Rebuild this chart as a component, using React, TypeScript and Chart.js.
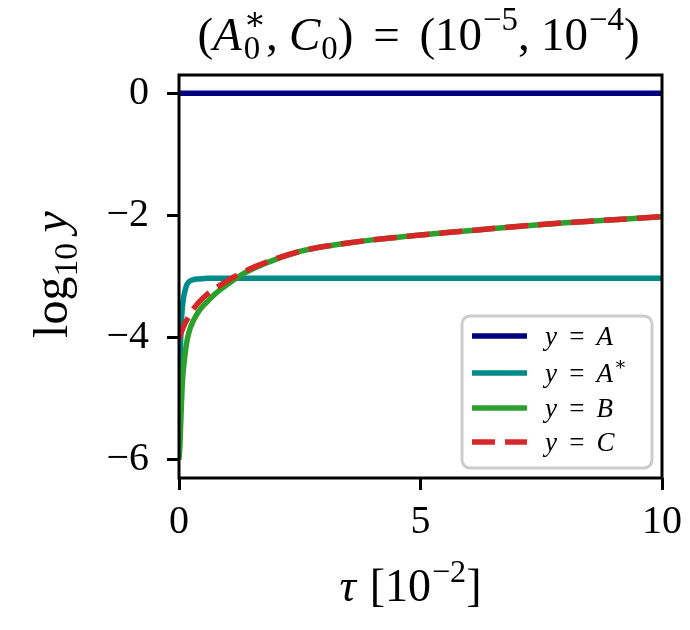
import React, { useEffect, useRef } from 'react';
import { Chart, registerables } from 'chart.js';

Chart.register(...registerables);

// ---------- data ----------
const tau = [0, 0.02, 0.04, 0.06, 0.08, 0.1, 0.15, 0.2, 0.3, 0.4, 0.5, 0.6, 0.8, 1.0, 1.3, 1.6, 2.0, 2.5, 3.0, 3.5, 4.0, 4.5, 5.0, 6.0, 7.0, 8.0, 9.0, 10.0];
const logA = [0, 0, 0, 0, 0, 0, 0, 0, 0, 0, 0, 0, 0, 0, 0, 0, 0, 0, 0, 0, 0, 0, 0, 0, 0, 0, 0, 0];
const logAstar = [-5.0, -4.4, -3.9, -3.6, -3.43, -3.32, -3.16, -3.09, -3.05, -3.04, -3.035, -3.03, -3.03, -3.03, -3.03, -3.03, -3.03, -3.03, -3.03, -3.03, -3.03, -3.03, -3.03, -3.03, -3.03, -3.03, -3.03, -3.03];
const logB = [-6.0, -5.75, -5.3, -4.9, -4.62, -4.45, -4.13, -3.93, -3.72, -3.58, -3.48, -3.4, -3.25, -3.13, -2.97, -2.85, -2.72, -2.59, -2.51, -2.45, -2.4, -2.36, -2.32, -2.25, -2.18, -2.12, -2.07, -2.02];
const logC = [-4.02, -3.98, -3.93, -3.89, -3.85, -3.81, -3.73, -3.66, -3.53, -3.43, -3.35, -3.28, -3.17, -3.07, -2.94, -2.83, -2.71, -2.59, -2.51, -2.45, -2.4, -2.36, -2.32, -2.25, -2.18, -2.12, -2.07, -2.02];

const xTicks = [0, 5, 10];
const yTicks = [-6, -4, -2, 0];
const xMin = 0;
const xMax = 10;
const yMin = -6.3;
const yMax = 0.3;
const seriesNames = ['A', 'A', 'B', 'C'];
const seriesStars = [false, true, false, false];
const seriesColors = ['#000080', '#008b8b', '#2ca02c', '#d62728'];

const FONT = "'Liberation Serif', 'DejaVu Serif', serif";

type Seg = { t: string; it?: boolean; pos?: 'sup' | 'sub'; stack?: boolean; gapL?: number; gapR?: number };

function richWidth(ctx: CanvasRenderingContext2D, segs: Seg[], size: number) {
  let x = 0;
  let pendingStack = 0;
  for (const s of segs) {
    const fs = s.pos ? size * 0.7 : size;
    ctx.font = `${s.it ? 'italic ' : ''}${fs}px ${FONT}`;
    const w = ctx.measureText(s.t).width;
    x += (s.gapL || 0) * size;
    if (s.stack) {
      pendingStack = w;
      continue;
    }
    x += Math.max(w, pendingStack);
    pendingStack = 0;
    x += (s.gapR || 0) * size;
  }
  return x;
}

function drawRich(ctx: CanvasRenderingContext2D, segs: Seg[], x0: number, y: number, size: number, align: 'left' | 'center') {
  const total = richWidth(ctx, segs, size);
  let x = align === 'center' ? x0 - total / 2 : x0;
  let pendingStack = 0;
  ctx.textBaseline = 'alphabetic';
  ctx.textAlign = 'left';
  for (const s of segs) {
    const fs = s.pos ? size * 0.7 : size;
    ctx.font = `${s.it ? 'italic ' : ''}${fs}px ${FONT}`;
    const w = ctx.measureText(s.t).width;
    x += (s.gapL || 0) * size;
    const dy = s.pos === 'sup' ? -0.42 * size : s.pos === 'sub' ? 0.2 * size : 0;
    ctx.fillText(s.t, x, y + dy);
    if (s.stack) {
      pendingStack = w;
      continue;
    }
    x += Math.max(w, pendingStack);
    pendingStack = 0;
    x += (s.gapR || 0) * size;
  }
}

const titleSegs: Seg[] = [
  { t: '(' },
  { t: 'A', it: true, gapR: 0.04 },
  { t: '∗', pos: 'sup', stack: true },
  { t: '0', pos: 'sub' },
  { t: ',', gapR: 0.24 },
  { t: 'C', it: true, gapR: 0.02 },
  { t: '0', pos: 'sub' },
  { t: ')' },
  { t: '=', gapL: 0.42, gapR: 0.42 },
  { t: '(10' },
  { t: '−5', pos: 'sup', gapL: 0.02 },
  { t: ',', gapR: 0.24 },
  { t: '10' },
  { t: '−4', pos: 'sup', gapL: 0.02 },
  { t: ')' },
];

const xLabelSegs: Seg[] = [
  { t: 'τ', it: true, gapR: 0.3 },
  { t: '[10' },
  { t: '−2', pos: 'sup', gapL: 0.02 },
  { t: ']' },
];

const yLabelSegs: Seg[] = [
  { t: 'log' },
  { t: '10', pos: 'sub', gapR: 0.22 },
  { t: 'y', it: true },
];

const decorPlugin = {
  id: 'decor',
  afterDatasetsDraw(chart: any) {
    const { ctx, chartArea } = chart;
    const { left, top, right, bottom } = chartArea;
    ctx.save();
    ctx.strokeStyle = '#000';
    ctx.lineWidth = 3;
    ctx.strokeRect(left, top, right - left, bottom - top);
    ctx.restore();
  },
  afterDraw(chart: any) {
    const { ctx, chartArea } = chart;
    const { left, top, right, bottom } = chartArea;
    ctx.save();
    ctx.fillStyle = '#000';
    // title
    drawRich(ctx, titleSegs, (left + right) / 2 - 2, 50, 47, 'center');
    // x label
    drawRich(ctx, xLabelSegs, (left + right) / 2 - 10, 601, 46, 'center');
    // y label
    ctx.save();
    ctx.translate(67, (top + bottom) / 2 - 2);
    ctx.rotate(-Math.PI / 2);
    drawRich(ctx, yLabelSegs, 0, 0, 48, 'center');
    ctx.restore();

    // legend
    const bx = 462, by = 316, bw = 190, bh = 152;
    ctx.beginPath();
    ctx.roundRect(bx, by, bw, bh, 8);
    ctx.fillStyle = 'rgba(255,255,255,0.9)';
    ctx.fill();
    ctx.strokeStyle = '#cccccc';
    ctx.lineWidth = 3;
    ctx.stroke();
    const rows = [336, 373, 408, 442];
    seriesNames.forEach((name, i) => {
      const ry = rows[i];
      ctx.beginPath();
      ctx.strokeStyle = seriesColors[i];
      ctx.lineWidth = 5.5;
      ctx.lineCap = 'butt';
      ctx.setLineDash(i === 3 ? [23, 10] : []);
      ctx.moveTo(472, ry);
      ctx.lineTo(527, ry);
      ctx.stroke();
      ctx.setLineDash([]);
      ctx.fillStyle = '#000';
      const segs: Seg[] = [
        { t: 'y', it: true },
        { t: '=', gapL: 0.45, gapR: 0.45 },
        { t: name, it: true },
      ];
      if (seriesStars[i]) segs.push({ t: '∗', pos: 'sup', gapL: 0.04 });
      drawRich(ctx, segs, 545, ry + 8.5, 27, 'left');
    });
    ctx.restore();
  },
};

export default function App() {
  const ref = useRef<HTMLCanvasElement | null>(null);
  useEffect(() => {
    if (!ref.current) return;
    const mk = (vals: number[]) => tau.map((t, i) => ({ x: t, y: vals[i] }));
    const all = [logA, logAstar, logB, logC];
    const tickFmt = (v: any) => (Number(v) < 0 ? '\u2212' + Math.abs(Number(v)) : String(v));
    const chart = new Chart(ref.current, {
      type: 'line',
      data: {
        datasets: all.map((vals, i) => ({
          label: seriesNames[i] + (seriesStars[i] ? '*' : ''),
          data: mk(vals),
          borderColor: seriesColors[i],
          backgroundColor: seriesColors[i],
          borderWidth: 5.5,
          borderDash: i === 3 ? [23, 10] : [],
          pointRadius: 0,
          fill: false,
          cubicInterpolationMode: 'monotone',
          order: 4 - i,
          clip: 0,
        })) as any,
      },
      options: {
        animation: false,
        responsive: false,
        maintainAspectRatio: false,
        layout: { padding: { left: 0, right: 28, top: 75, bottom: 0 } },
        plugins: {
          legend: { display: false },
          tooltip: { enabled: false },
          title: { display: false },
        },
        scales: {
          x: {
            type: 'linear',
            min: xMin,
            max: xMax,
            afterBuildTicks: (s: any) => {
              s.ticks = xTicks.map((v) => ({ value: v }));
            },
            afterFit: (s: any) => {
              s.height = 152;
            },
            grid: { drawOnChartArea: false, drawTicks: true, tickLength: 12, tickWidth: 3, tickColor: '#000' },
            border: { display: false },
            ticks: {
              font: { family: FONT, size: 40 },
              color: '#000',
              padding: 8,
              maxRotation: 0,
              autoSkip: false,
              callback: tickFmt,
            },
          },
          y: {
            type: 'linear',
            min: yMin,
            max: yMax,
            afterBuildTicks: (s: any) => {
              s.ticks = yTicks.map((v) => ({ value: v }));
            },
            afterFit: (s: any) => {
              s.width = 179;
            },
            grid: { drawOnChartArea: false, drawTicks: true, tickLength: 12, tickWidth: 3, tickColor: '#000' },
            border: { display: false },
            ticks: {
              font: { family: FONT, size: 40 },
              color: '#000',
              padding: 18,
              autoSkip: false,
              callback: tickFmt,
            },
          },
        },
      },
      plugins: [decorPlugin],
    });
    return () => chart.destroy();
  }, []);
  return (
    <div style={{ position: 'fixed', left: 0, top: 0, width: 690, height: 630, background: '#fff' }}>
      <canvas ref={ref} width={690} height={630} style={{ display: 'block', width: 690, height: 630 }} />
    </div>
  );
}
